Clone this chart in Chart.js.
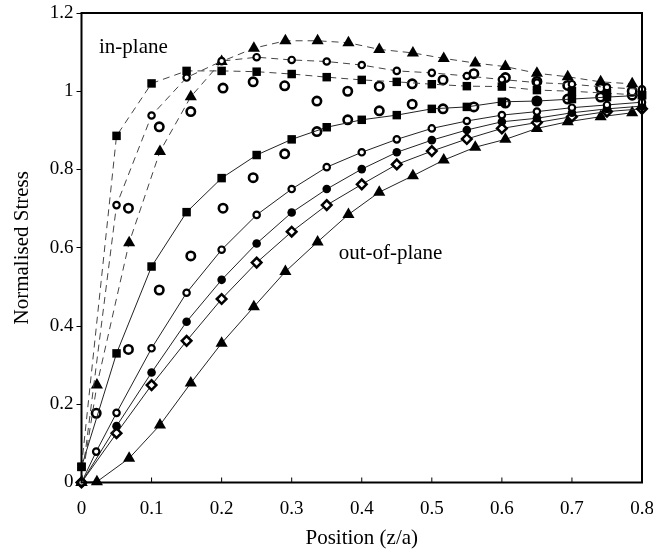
<!DOCTYPE html>
<html><head><meta charset="utf-8">
<script src="https://cdn.jsdelivr.net/npm/chart.js@4"></script>
<style>html,body{margin:0;padding:0;background:#fff}#wrap{width:653px;height:551px}</style>
</head><body><div id="wrap"><canvas id="c" width="653" height="551"></canvas></div>
<script>
// x positions
const xGrid = [0,0.05,0.1,0.15,0.2,0.25,0.3,0.35,0.4,0.45,0.5,0.55,0.6,0.65,0.7,0.75,0.8];
const xCircOut = [0,0.021,0.05,0.1,0.15,0.2,0.25,0.3,0.35,0.4,0.45,0.5,0.55,0.6,0.65,0.7,0.75,0.8];
const xTri = [0,0.022,0.068,0.112,0.156,0.2,0.246,0.291,0.337,0.381,0.425,0.473,0.517,0.562,0.605,0.65,0.694,0.741,0.786];
const xBigOut = [0.021,0.067,0.111,0.156,0.202,0.245,0.29,0.336,0.38,0.425,0.472,0.516,0.56,0.605,0.65,0.694,0.741,0.786];
const xBigIn = [0.067,0.111,0.156,0.202,0.245,0.29,0.336,0.38,0.425,0.472,0.516,0.56,0.605,0.65,0.694,0.741,0.786];

// in-plane series
const inSquare = [0.04,0.886,1.020,1.052,1.052,1.050,1.044,1.036,1.029,1.024,1.018,1.013,1.012,1.003,1.0,0.995,0.99];
const inCircle = [0,0.709,0.938,1.035,1.077,1.087,1.080,1.076,1.067,1.052,1.047,1.039,1.030,1.022,1.018,1.010,1.005];
const inTri = [0,0.249,0.613,0.846,0.986,1.076,1.110,1.129,1.129,1.124,1.107,1.098,1.084,1.072,1.063,1.046,1.037,1.024,1.019];
const inBig = [0.701,0.909,0.948,1.008,1.024,1.014,0.975,1.000,1.013,1.019,1.029,1.045,1.035,1.025,1.015,1.008,1.0];

// out-of-plane series
const outSquare = [0.04,0.330,0.552,0.691,0.778,0.837,0.877,0.908,0.927,0.939,0.955,0.960,0.973,0.975,0.980,0.985,0.990];
const outCircle = [0,0.079,0.178,0.343,0.485,0.595,0.684,0.750,0.806,0.844,0.877,0.905,0.924,0.939,0.948,0.958,0.965,0.972];
const outFilled = [0,0.144,0.281,0.411,0.518,0.611,0.690,0.750,0.801,0.844,0.875,0.901,0.922,0.931,0.945,0.955,0.962];
const outDiamond = [0,0.126,0.249,0.362,0.469,0.562,0.641,0.709,0.762,0.813,0.847,0.878,0.905,0.920,0.935,0.948,0.955];
const outTri = [0,0.002,0.062,0.147,0.254,0.356,0.449,0.539,0.615,0.685,0.742,0.784,0.824,0.857,0.877,0.905,0.922,0.935,0.945];
const outBig = [0.177,0.340,0.492,0.579,0.701,0.779,0.840,0.897,0.927,0.950,0.967,0.955,0.960,0.970,0.975,0.980,0.985,0.990];

const xTickLabels = ['0','0.1','0.2','0.3','0.4','0.5','0.6','0.7','0.8'];
const yTickLabels = ['0','0.2','0.4','0.6','0.8','1','1.2'];

const pts = (xs, ys) => xs.map((x, i) => ({x, y: ys[i]}));

const SERIF = '"Liberation Serif", "DejaVu Serif", serif';
const dashed = {borderDash:[7,5], borderWidth:1, borderColor:'#444', showLine:true, tension:0};
const solid = {borderWidth:1, borderColor:'#222', showLine:true, tension:0};

function ds(label, data, line, style) {
  return Object.assign({label, data, clip:false, pointHoverRadius:0}, line || {showLine:false}, style);
}
const sq = {pointStyle:'rect', pointRadius:6, pointBackgroundColor:'#000', pointBorderColor:'#000', pointBorderWidth:0};
const tri = {pointStyle:'triangle', pointRadius:7, pointBackgroundColor:'#000', pointBorderColor:'#000', pointBorderWidth:0};
const circS = {pointStyle:'circle', pointRadius:3.2, pointBackgroundColor:'#fff', pointBorderColor:'#000', pointBorderWidth:2.2};
const circL = {pointStyle:'circle', pointRadius:4.2, pointBackgroundColor:'#fff', pointBorderColor:'#000', pointBorderWidth:2.6};
const circF = {pointStyle:'circle', pointRadius:4.3, pointBackgroundColor:'#000', pointBorderColor:'#000', pointBorderWidth:0};
const dia = {pointStyle:'rectRot', pointRadius:4.8, pointBackgroundColor:'#fff', pointBorderColor:'#000', pointBorderWidth:2.5};

const frame = {
  id:'frame',
  afterDraw(chart) {
    const {ctx, chartArea:a, scales} = chart;
    ctx.save();
    ctx.strokeStyle = '#000';
    ctx.lineWidth = 2;
    ctx.strokeRect(a.left, a.top, a.right - a.left, a.bottom - a.top);
    // inward x ticks
    ctx.lineWidth = 1;
    scales.x.ticks.forEach(t => {
      const px = scales.x.getPixelForValue(t.value);
      ctx.beginPath(); ctx.moveTo(px, a.bottom); ctx.lineTo(px, a.bottom - 5); ctx.stroke();
    });
    ctx.fillStyle = '#000';
    ctx.font = '21px ' + SERIF;
    ctx.textBaseline = 'middle';
    ctx.textAlign = 'left';
    ctx.fillText('in-plane', scales.x.getPixelForValue(0.025), scales.y.getPixelForValue(1.112));
    ctx.fillText('out-of-plane', scales.x.getPixelForValue(0.367), scales.y.getPixelForValue(0.585));
    ctx.restore();
  }
};

new Chart(document.getElementById('c'), {
  type:'scatter',
  data:{datasets:[
    ds('in-plane square', pts(xGrid, inSquare), dashed, sq),
    ds('in-plane circle', pts(xGrid, inCircle), dashed, circS),
    ds('in-plane triangle', pts(xTri, inTri), dashed, tri),
    ds('in-plane circle (large)', pts(xBigIn, inBig), null, circL),
    ds('out-of-plane square', pts(xGrid, outSquare), solid, sq),
    ds('out-of-plane circle', pts(xCircOut, outCircle), solid, circS),
    ds('out-of-plane filled circle', pts(xGrid, outFilled), solid, circF),
    ds('out-of-plane diamond', pts(xGrid, outDiamond), solid, dia),
    ds('out-of-plane triangle', pts(xTri, outTri), solid, tri),
    ds('out-of-plane circle (large)', pts(xBigOut, outBig), null, circL)
  ]},
  options:{
    responsive:false, animation:false, devicePixelRatio:1,
    layout:{padding:{left:0, top:13, right:11, bottom:0}},
    plugins:{legend:{display:false}, tooltip:{enabled:false}},
    scales:{
      x:{type:'linear', min:0, max:0.8,
        afterBuildTicks(s){ s.ticks = xTickLabels.map(v => ({value: parseFloat(v)})); },
        afterFit(s){ s.height = 68.5; s.paddingLeft = 0; s.paddingRight = 0; },
        border:{display:false},
        grid:{display:false, drawTicks:false},
        ticks:{color:'#000', padding:15, font:{family:SERIF, size:19}, maxRotation:0,
          callback:(v, i) => xTickLabels[i]},
        title:{display:true, text:'Position (z/a)', color:'#000', font:{family:SERIF, size:21}, padding:{top:0, bottom:0}}
      },
      y:{type:'linear', min:0, max:1.2,
        afterBuildTicks(s){ s.ticks = yTickLabels.map(v => ({value: parseFloat(v)})); },
        afterFit(s){ s.width = 81.5; s.paddingTop = 0; s.paddingBottom = 0; },
        border:{display:false},
        grid:{display:true, drawOnChartArea:false, drawTicks:true, tickLength:5, color:'#000', lineWidth:1},
        ticks:{color:'#000', padding:3, font:{family:SERIF, size:19},
          callback:(v, i) => yTickLabels[i]},
        title:{display:true, text:'Normalised Stress', color:'#000', font:{family:SERIF, size:21}, padding:{top:10, bottom:0}}
      }
    }
  },
  plugins:[frame]
});
</script></body></html>
